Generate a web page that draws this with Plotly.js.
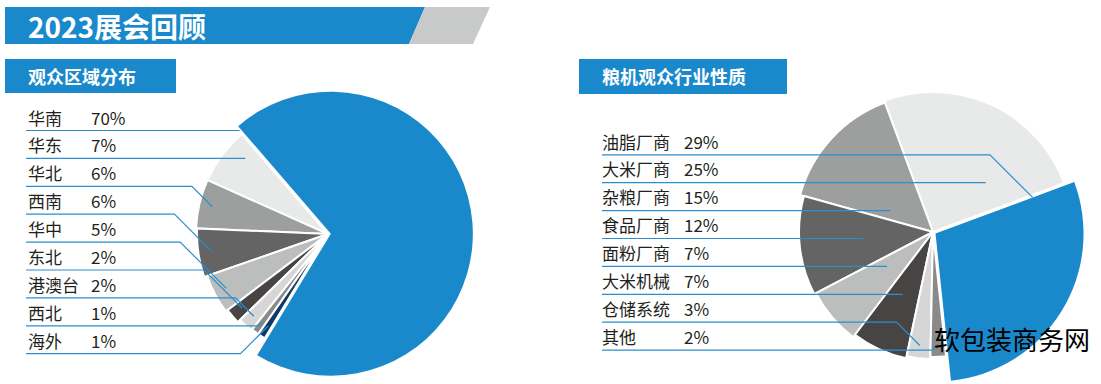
<!DOCTYPE html>
<html><head><meta charset="utf-8">
<script src="https://cdn.plot.ly/plotly-3.0.1.min.js"></script>
<style>html,body{margin:0;padding:0;background:#fff;}#chart{width:1101px;height:384px;}</style>
</head><body><div id="chart"></div>
<script>
// ---- data ----
const titleText = '2023展会回顾';
const regionTitle = '观众区域分布';
const regionLabels = ['华南','华东','华北','西南','华中','东北','港澳台','西北','海外'];
const regionValues = [70,7,6,6,5,2,2,1,1];
const industryTitle = '粮机观众行业性质';
const industryLabels = ['油脂厂商','大米厂商','杂粮厂商','食品厂商','面粉厂商','大米机械','仓储系统','其他'];
const industryValues = [29,25,15,12,7,7,3,2];
const watermark = '软包装商务网';

// ---- styles / layout constants ----
const regionColors = ['#1a89cb','#e8e9e9','#9d9e9e','#646464','#bcbdbd','#474443','#d6d6d6','#8a8a8a','#0d3a66'];
const industryColors = ['#1a89cb','#e8e9e9','#9d9e9e','#646464','#bcbdbd','#474443','#d6d6d6','#8a8a8a'];
const regionRadii = [142, 132, 132, 131, 128, 126, 123, 122, 122];
const industryRadii = [148, 140, 138, 134, 132, 129, 127, 125];

const W = 1101, H = 384;
const PULL = 0.02;
const FONT = '"Noto Sans CJK SC", "Noto Sans", sans-serif';
const BLUE = '#1a89cb';
const TXT = '#231f20';
const LINE = '#2b8fcf';
const TRANSP = 'rgba(0,0,0,0)';

const charts = [
  {labels: regionLabels, values: regionValues, colors: regionColors, radii: regionRadii,
   cx: 328, cy: 234, rotation: -40.75, hiFrac: 0.75,
   rowY0: 117, rowStep: 27.9, labelX: 26, pctX: 89, lineX0: 26, lineDy: 13.5},
  {labels: industryLabels, values: industryValues, colors: industryColors, radii: industryRadii,
   cx: 933, cy: 232, rotation: 69.6, hiFrac: 0.7,
   rowY0: 141, rowStep: 27.9, labelX: 600, pctX: 682, lineX0: 602, lineDy: 13.8}
];

const px2x = x => x / W;
const py2y = y => 1 - y / H;
const rad = d => d * Math.PI / 180;

function domainFor(cx, cy, half) {
  return {x: [(cx - half) / W, (cx + half) / W],
          y: [Math.max(0, (H - cy - half) / H), Math.min(1, (H - cy + half) / H)]};
}

const traces = [];
const shapes = [];
const annotations = [];

// header shapes
shapes.push({type: 'path', xref: 'paper', yref: 'paper', layer: 'below',
  path: `M${px2x(5)},${py2y(7)} L${px2x(425)},${py2y(7)} L${px2x(409)},${py2y(44)} L${px2x(5)},${py2y(44)} Z`,
  fillcolor: BLUE, line: {width: 0}});
shapes.push({type: 'path', xref: 'paper', yref: 'paper', layer: 'below',
  path: `M${px2x(425)},${py2y(7)} L${px2x(490)},${py2y(7)} L${px2x(473)},${py2y(44)} L${px2x(409)},${py2y(44)} Z`,
  fillcolor: '#c8c9c9', line: {width: 0}});
shapes.push({type: 'rect', xref: 'paper', yref: 'paper', layer: 'below',
  x0: px2x(5), x1: px2x(176), y0: py2y(59), y1: py2y(93), fillcolor: BLUE, line: {width: 0}});
shapes.push({type: 'rect', xref: 'paper', yref: 'paper', layer: 'below',
  x0: px2x(579), x1: px2x(787), y0: py2y(59), y1: py2y(94), fillcolor: BLUE, line: {width: 0}});

annotations.push({xref: 'paper', yref: 'paper', x: px2x(26), y: py2y(26), xanchor: 'left', yanchor: 'middle',
  text: titleText, showarrow: false, font: {family: FONT, size: 28, color: '#fff', weight: 700}});
annotations.push({xref: 'paper', yref: 'paper', x: px2x(26), y: py2y(76), xanchor: 'left', yanchor: 'middle',
  text: regionTitle, showarrow: false, font: {family: FONT, size: 18, color: '#fff', weight: 700}});
annotations.push({xref: 'paper', yref: 'paper', x: px2x(600), y: py2y(76), xanchor: 'left', yanchor: 'middle',
  text: industryTitle, showarrow: false, font: {family: FONT, size: 18, color: '#fff', weight: 700}});

charts.forEach(ch => {
  const n = ch.values.length;
  const total = ch.values.reduce((a, b) => a + b, 0);
  // Plotly (counterclockwise): first slice spans clockwise [rotation, rotation+v0],
  // following slices run counterclockwise from `rotation`.
  const rot0 = ch.rotation + ch.values[0] / total * 360;
  const starts = [], ends = [];
  let cum = 0;
  for (let i = 0; i < n; i++) {
    starts.push(rot0 - cum / total * 360);
    cum += ch.values[i];
    ends.push(rot0 - cum / total * 360);
  }
  const mid0 = (starts[0] + ends[0]) / 2;
  const hiCx = ch.cx + PULL * ch.radii[0] * Math.sin(rad(mid0));
  const hiCy = ch.cy - PULL * ch.radii[0] * Math.cos(rad(mid0));

  // one pie trace per slice so each slice can have its own radius
  for (let k = 0; k < n; k++) {
    const isHi = k === 0;
    traces.push({type: 'pie', labels: ch.labels, values: ch.values, sort: false,
      direction: 'counterclockwise', rotation: ch.rotation,
      pull: isHi ? ch.values.map((v, i) => i === 0 ? PULL : 0) : 0,
      marker: {colors: ch.colors.map((c, i) => i === k ? c : TRANSP),
               line: {color: '#ffffff', width: ch.values.map((v, i) => (i === k && !isHi) ? 2 : 0)}},
      textinfo: 'none', hoverinfo: 'skip', showlegend: false,
      domain: domainFor(ch.cx, ch.cy, ch.radii[k] * (isHi ? 1 + PULL : 1))});
  }

  for (let i = 0; i < n; i++) {
    const yc = ch.rowY0 + i * ch.rowStep;
    annotations.push({xref: 'paper', yref: 'paper', x: px2x(ch.labelX), y: py2y(yc), xanchor: 'left', yanchor: 'middle',
      text: ch.labels[i], showarrow: false, font: {family: FONT, size: 17, color: TXT}});
    annotations.push({xref: 'paper', yref: 'paper', x: px2x(ch.pctX), y: py2y(yc), xanchor: 'left', yanchor: 'middle',
      text: ch.values[i] + '%', showarrow: false, font: {family: FONT, size: 17, color: TXT}});

    const yL = yc + ch.lineDy;
    const cx = i === 0 ? hiCx : ch.cx, cy = i === 0 ? hiCy : ch.cy;
    const R = ch.radii[i];
    const span = starts[i] - ends[i];
    const inSector = (x, y) => {
      const dx = x - cx, dy = y - cy;
      if (Math.hypot(dx, dy) > 0.95 * R) return false;
      const a = Math.atan2(dx, -dy) * 180 / Math.PI;
      const d = (((starts[i] - a) % 360) + 360) % 360;
      return d <= span;
    };
    let runStart = null, runEnd = null;
    for (let x = ch.lineX0; x < W; x += 0.5) {
      if (inSector(x, yL)) { if (runStart === null) runStart = x; runEnd = x; }
      else if (runStart !== null) break;
    }
    let path;
    if (runStart !== null && runEnd - runStart >= 20) {
      const ex = i === 0 ? runStart - 5 : (runStart + runEnd) / 2;
      path = `M${px2x(ch.lineX0)},${py2y(yL)} L${px2x(ex)},${py2y(yL)}`;
    } else {
      const ang = i === 0 ? ends[0] : (starts[i] + ends[i]) / 2;
      const f = i === 0 ? ch.hiFrac : 0.9;
      const tx = cx + f * R * Math.sin(rad(ang));
      const ty = cy - f * R * Math.cos(rad(ang));
      const kx = Math.max(ch.lineX0 + 10, tx - Math.abs(ty - yL));
      path = `M${px2x(ch.lineX0)},${py2y(yL)} L${px2x(kx)},${py2y(yL)} L${px2x(tx)},${py2y(ty)}`;
    }
    shapes.push({type: 'path', xref: 'paper', yref: 'paper', layer: 'above', path: path,
      line: {color: LINE, width: 1.2}});
  }
});

annotations.push({xref: 'paper', yref: 'paper', x: px2x(1012), y: py2y(338), xanchor: 'center', yanchor: 'middle',
  text: watermark, showarrow: false, font: {family: FONT, size: 26, color: '#000'}});

const layout = {width: W, height: H, margin: {l: 0, r: 0, t: 0, b: 0, pad: 0},
  paper_bgcolor: '#ffffff', plot_bgcolor: '#ffffff', showlegend: false,
  shapes: shapes, annotations: annotations};

Plotly.newPlot('chart', traces, layout, {staticPlot: true, displayModeBar: false});
</script>
</body></html>
